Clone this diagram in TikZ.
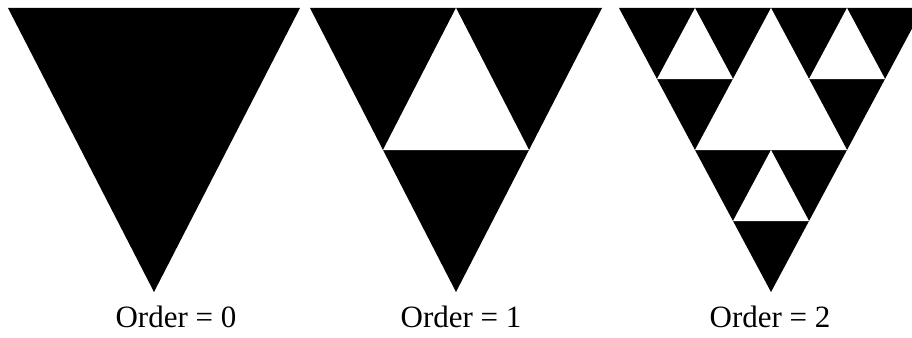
\documentclass[tikz,border=0pt]{standalone}
\usepackage{fontspec}
\setmainfont{Liberation Serif}
\begin{document}
\begin{tikzpicture}[x=1pt,y=-1pt,
  blk/.style={fill=black,draw=none},
  wht/.style={fill=white,draw=none},
  lbl/.style={anchor=base,inner sep=0pt,font=\fontsize{31}{31}\selectfont}]
\useasboundingbox (0,0) rectangle (912,337);
\begin{scope}
\clip (0,0) rectangle (912,337);
% Order 0
\path[blk] (8,8) -- (300,8) -- (154,292) -- cycle;
% Order 1
\path[blk] (310,8) -- (602,8) -- (456,292) -- cycle;
\path[wht] (456,8) -- (383,150) -- (529,150) -- cycle;
% Order 2
\path[blk] (619,8) -- (923,8) -- (771,292) -- cycle;
\path[wht] (771,8) -- (695,150) -- (847,150) -- cycle;
\path[wht] (695,8) -- (657,79) -- (733,79) -- cycle;
\path[wht] (847,8) -- (809,79) -- (885,79) -- cycle;
\path[wht] (771,150) -- (733,221) -- (809,221) -- cycle;
\end{scope}
\node[lbl] (l0) at (176,327) {Order = 0};
\node[lbl] (l1) at (461,327) {Order = 1};
\node[lbl] (l2) at (770,327) {Order = 2};
\end{tikzpicture}
\end{document}
